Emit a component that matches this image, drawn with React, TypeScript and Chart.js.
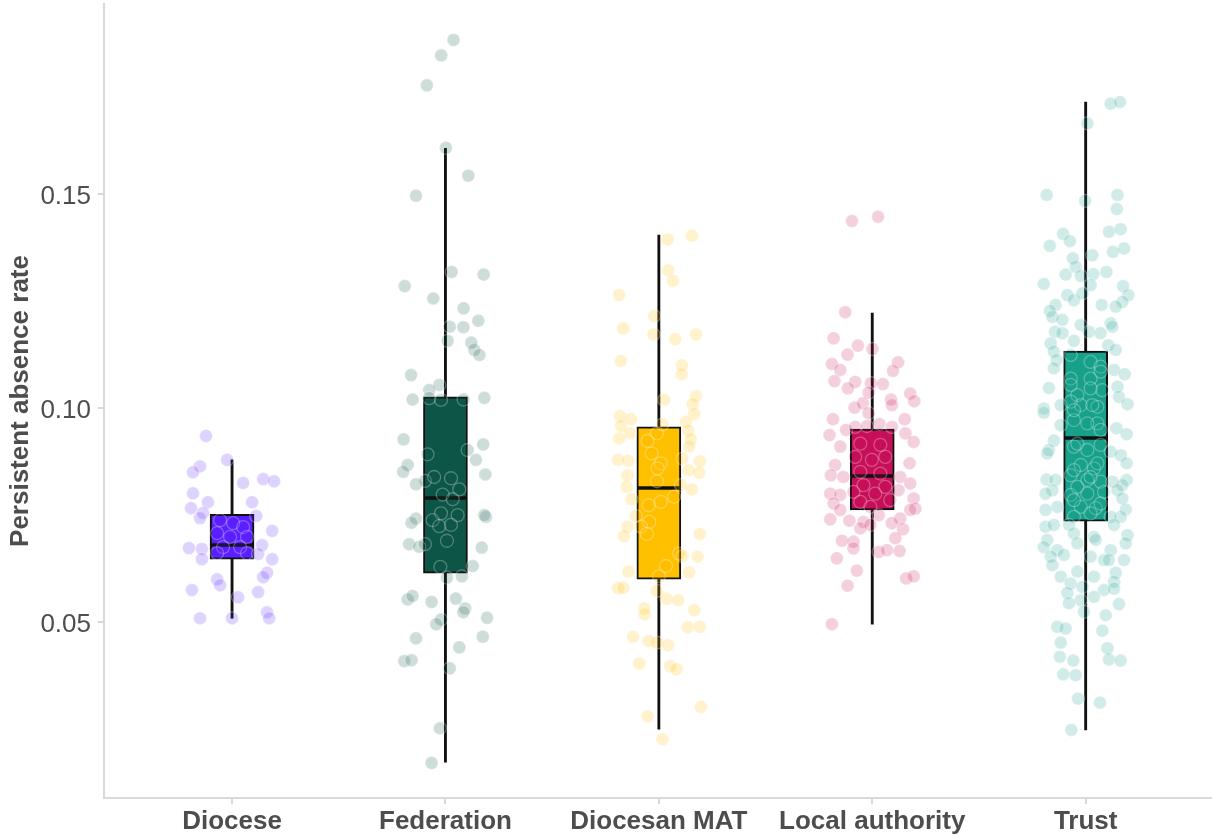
import React, { useEffect, useRef } from 'react';
import { Chart, registerables } from 'chart.js';

Chart.register(...registerables);

const FONT = "'Liberation Sans', Arial, Helvetica, sans-serif";

const categories = ['Diocese', 'Federation', 'Diocesan MAT', 'Local authority', 'Trust'];
const colors = ['#5A1EFF', '#0D5546', '#FFC000', '#C70E58', '#17A18A'];

// Box plot statistics
const whiskerLow = [0.0509, 0.0173, 0.0250, 0.0495, 0.0248];
const q1 = [0.0647, 0.0614, 0.0600, 0.0762, 0.0736];
const median = [0.0680, 0.0790, 0.0813, 0.0841, 0.0930];
const q3 = [0.0752, 0.1026, 0.0956, 0.0951, 0.1133];
const whiskerHigh = [0.0879, 0.1607, 0.1404, 0.1222, 0.1715];

const yTicks = [0.05, 0.10, 0.15];

// Jittered observations (value, horizontal jitter in category units)
const dioceseValues = [0.0935, 0.0879, 0.0864, 0.0850, 0.0825, 0.0834, 0.0829, 0.0801, 0.0780, 0.0780, 0.0766, 0.0755, 0.0743, 0.0748, 0.0713, 0.0738, 0.0731, 0.0722, 0.0708, 0.0699, 0.0699, 0.0675, 0.0675, 0.0661, 0.0661, 0.0673, 0.0671, 0.0647, 0.0680, 0.0659, 0.0647, 0.0600, 0.0586, 0.0615, 0.0605, 0.0575, 0.0558, 0.0570, 0.0509, 0.0509, 0.0523, 0.0509];
const dioceseJitter = [-0.122, -0.023, -0.150, -0.183, 0.052, 0.146, 0.197, -0.183, -0.113, 0.094, -0.192, -0.136, -0.150, 0.113, 0.188, -0.056, 0.005, 0.052, -0.070, -0.009, 0.070, -0.042, 0.038, -0.070, 0.070, -0.202, -0.141, -0.141, 0.141, 0.122, 0.188, -0.070, -0.056, 0.164, 0.146, -0.188, 0.028, 0.122, -0.150, 0.000, 0.164, 0.174];

const federationValues = [0.1860, 0.1824, 0.1754, 0.1608, 0.1543, 0.1496, 0.1318, 0.1312, 0.1285, 0.1256, 0.1233, 0.1204, 0.1190, 0.1189, 0.1157, 0.1153, 0.1136, 0.1124, 0.1077, 0.1054, 0.1042, 0.1020, 0.1023, 0.1019, 0.1020, 0.1024,
  0.0927, 0.0915, 0.0892, 0.0902, 0.0879, 0.0867, 0.0851, 0.0845, 0.0822, 0.0830, 0.0839, 0.0836, 0.0810, 0.0798, 0.0787, 0.0754, 0.0750, 0.0742, 0.0732, 0.0738, 0.0746, 0.0750, 0.0724, 0.0727, 0.0682, 0.0676, 0.0682, 0.0690, 0.0674, 0.0629, 0.0631, 0.0604, 0.0607, 0.0553, 0.0561, 0.0547, 0.0555, 0.0532, 0.0523, 0.0506, 0.0495, 0.0510, 0.0462, 0.0466, 0.0441, 0.0409, 0.0411, 0.0392, 0.0252, 0.0171];
const federationJitter = [0.038, -0.020, -0.087, 0.002, 0.107, -0.138, 0.029, 0.179, -0.191, -0.057, 0.085, 0.154, 0.020, 0.084, 0.010, 0.121, 0.135, 0.159, -0.161, -0.029, -0.076, -0.154, -0.076, -0.021, 0.085, 0.182,
  -0.196, 0.177, -0.084, 0.104, 0.143, -0.177, -0.198, 0.187, -0.138, -0.096, -0.053, 0.026, 0.065, -0.013, 0.034, -0.021, 0.057, -0.138, -0.159, -0.060, 0.190, 0.182, -0.029, 0.026, -0.170, -0.123, -0.096, 0.007, 0.170, -0.024, 0.128, 0.007, 0.077, -0.177, -0.154, -0.065, 0.049, 0.092, 0.084, -0.021, -0.043, 0.195, -0.138, 0.175, 0.065, -0.193, -0.159, 0.020, -0.026, -0.065];

const matValues = [0.1394, 0.1403, 0.1322, 0.1297, 0.1264, 0.1215, 0.1186, 0.1172, 0.1172, 0.1161, 0.1110, 0.1100, 0.1079, 0.1019, 0.1028, 0.1009, 0.0986, 0.0981, 0.0974, 0.0958, 0.0941, 0.0929, 0.0968, 0.0947, 0.0962, 0.0941, 0.0927, 0.0910, 0.0923, 0.0894, 0.0879, 0.0877, 0.0882, 0.0876, 0.0871, 0.0859, 0.0855, 0.0849, 0.0843, 0.0829, 0.0816, 0.0820, 0.0810, 0.0787, 0.0781, 0.0793, 0.0773, 0.0748, 0.0734, 0.0723, 0.0723, 0.0701, 0.0706, 0.0706, 0.0660, 0.0654, 0.0653, 0.0631, 0.0618, 0.0616, 0.0607, 0.0579, 0.0580, 0.0573, 0.0555, 0.0551, 0.0532, 0.0518, 0.0528, 0.0488, 0.0489, 0.0466, 0.0456, 0.0452, 0.0446, 0.0403, 0.0397, 0.0390, 0.0302, 0.0280, 0.0226];
const matJitter = [0.041, 0.155, 0.044, 0.067, -0.186, -0.022, -0.167, -0.025, 0.174, 0.077, -0.178, 0.108, 0.107, 0.025, 0.174, 0.158, 0.166, -0.182, -0.131, -0.178, -0.135, -0.186, 0.127, 0.138, 0.017, -0.009, 0.150, 0.142, -0.053, -0.034, -0.191, -0.144, 0.111, 0.192, 0.009, -0.006, 0.139, 0.189, -0.147, -0.009, -0.150, 0.103, 0.155, -0.128, 0.009, 0.072, -0.048, -0.108, -0.045, -0.147, -0.084, -0.163, -0.056, 0.192, 0.095, 0.111, 0.182, 0.033, -0.142, 0.142, 0.001, -0.191, -0.166, -0.009, 0.036, 0.091, -0.069, -0.066, 0.166, 0.135, 0.192, -0.121, -0.048, -0.009, 0.044, -0.092, 0.053, 0.083, 0.197, -0.053, 0.017];

const localValues = [0.1437, 0.1447, 0.1224, 0.1163, 0.1146, 0.1138, 0.1125, 0.1103, 0.1107, 0.1089, 0.1087, 0.1063, 0.1061, 0.1046, 0.1058, 0.1056, 0.1036, 0.1034, 0.1016, 0.1020, 0.1007, 0.1001, 0.1011, 0.0988, 0.0974, 0.0974, 0.0937, 0.0949, 0.0956, 0.0958, 0.0963, 0.0956, 0.0941, 0.0921, 0.0910, 0.0917, 0.0914, 0.0886, 0.0879, 0.0886, 0.0867, 0.0871, 0.0843, 0.0839, 0.0851, 0.0847, 0.0839, 0.0824, 0.0820, 0.0816, 0.0800, 0.0797, 0.0804, 0.0800, 0.0808, 0.0789, 0.0777, 0.0781, 0.0785, 0.0762, 0.0765, 0.0762, 0.0769, 0.0740, 0.0737, 0.0734, 0.0750, 0.0742, 0.0719, 0.0727, 0.0731, 0.0717, 0.0696, 0.0690, 0.0688, 0.0672, 0.0664, 0.0668, 0.0666, 0.0649, 0.0620, 0.0602, 0.0607, 0.0585, 0.0495];
const localJitter = [-0.095, 0.027, -0.127, -0.181, -0.067, 0.001, -0.116, -0.189, 0.121, -0.150, 0.097, -0.177, -0.080, -0.114, -0.006, 0.050, -0.017, 0.178, 0.197, 0.088, 0.092, -0.083, -0.044, -0.017, -0.184, 0.152, -0.200, -0.123, -0.080, -0.025, 0.034, 0.092, 0.155, 0.194, -0.150, -0.056, 0.038, -0.080, -0.002, 0.061, -0.174, 0.175, -0.194, -0.135, -0.056, 0.038, 0.131, 0.178, -0.041, 0.061, -0.197, -0.150, -0.088, 0.014, 0.123, 0.194, -0.181, -0.056, 0.084, -0.150, 0.202, 0.178, -0.009, -0.197, -0.107, -0.041, 0.030, 0.131, -0.056, -0.009, 0.092, 0.144, 0.108, -0.142, -0.088, -0.088, 0.030, 0.069, 0.128, -0.166, -0.072, 0.159, 0.194, -0.116, -0.189];

const trustValues = [0.1711, 0.1715, 0.1665, 0.1498, 0.1484, 0.1498, 0.1465, 0.1407, 0.1390, 0.1412, 0.1418, 0.1379, 0.1365, 0.1373, 0.1350, 0.1357, 0.1330, 0.1312, 0.1309, 0.1313, 0.1318, 0.1290, 0.1287, 0.1285, 0.1264, 0.1264, 0.1252, 0.1268, 0.1248, 0.1241, 0.1241, 0.1237, 0.1227, 0.1213, 0.1206, 0.1194, 0.1198, 0.1190, 0.1178, 0.1175, 0.1178, 0.1175, 0.1151, 0.1157, 0.1147, 0.1136, 0.1132, 0.1112, 0.1124, 0.1108, 0.1097, 0.1093, 0.1069, 0.1069, 0.1089, 0.1079, 0.1047, 0.1050, 0.1042, 0.1030, 0.1026, 0.0999, 0.1007, 0.1007, 0.1009, 0.1003,
  0.1085, 0.1054, 0.1046, 0.1015, 0.1007,
  0.0989, 0.0960, 0.0972, 0.0964, 0.0953, 0.0939, 0.0924, 0.0902, 0.0894, 0.0910, 0.0902, 0.0914, 0.0898, 0.0890, 0.0871, 0.0867, 0.0859, 0.0843, 0.0833, 0.0832, 0.0832, 0.0828, 0.0828, 0.0832, 0.0820, 0.0808, 0.0800, 0.0797, 0.0800, 0.0804, 0.0808, 0.0789, 0.0769, 0.0762, 0.0769, 0.0766, 0.0763, 0.0746, 0.0746, 0.0746, 0.0723, 0.0727, 0.0727, 0.0727, 0.0707, 0.0699, 0.0703, 0.0692, 0.0684, 0.0692, 0.0684, 0.0675, 0.0668, 0.0657, 0.0668, 0.0653, 0.0653, 0.0645, 0.0645, 0.0633, 0.0645, 0.0618, 0.0615, 0.0606, 0.0606, 0.0594, 0.0590, 0.0582, 0.0575, 0.0578, 0.0568, 0.0559, 0.0551, 0.0544, 0.0542, 0.0524, 0.0516, 0.0489, 0.0485, 0.0480, 0.0452, 0.0439, 0.0413, 0.0410, 0.0419, 0.0410, 0.0378, 0.0376, 0.0321, 0.0312, 0.0248,
  0.0995, 0.0964, 0.0949, 0.0917, 0.0871, 0.0855, 0.0839, 0.0816, 0.0777, 0.0785, 0.0754];
const trustJitter = [0.117, 0.161, 0.008, -0.183, -0.003, 0.149, 0.146, -0.106, -0.074, 0.109, 0.164, -0.168, 0.128, 0.180, -0.060, 0.031, -0.047, -0.094, -0.023, 0.036, 0.097, -0.196, 0.023, 0.175, 0.200, -0.086, -0.055, -0.015, 0.172, -0.141, 0.075, 0.141, -0.168, -0.156, -0.109, -0.023, 0.117, 0.125, -0.144, -0.109, 0.015, 0.070, -0.164, -0.055, 0.106, 0.141, -0.149, -0.136, -0.070, 0.023, 0.070, -0.149, -0.070, 0.023, 0.133, 0.183, -0.172, 0.149, 0.078, -0.039, 0.156, -0.196, -0.117, -0.023, 0.196, 0.055,
  0.070, -0.070, 0.023, -0.070, 0.031,
  -0.196, -0.117, -0.055, 0.055, 0.144, 0.192, -0.149, -0.172, -0.180, -0.055, 0.008, 0.070, 0.117, 0.164, 0.192, -0.023, 0.039, -0.070, -0.183, -0.141, 0.008, 0.070, 0.125, 0.192, 0.172, -0.156, -0.188, -0.070, 0.008, 0.086, 0.149, 0.172, -0.133, -0.188, -0.023, 0.047, 0.188, 0.164, -0.055, 0.117, -0.188, -0.149, -0.078, 0.133, -0.055, 0.039, 0.196, -0.180, -0.039, 0.047, 0.188, -0.196, -0.133, -0.102, 0.117, -0.164, 0.023, 0.086, 0.180, -0.156, 0.109, -0.039, 0.141, -0.117, 0.039, 0.133, -0.070, -0.015, 0.086, 0.133, -0.086, 0.039, -0.023, -0.078, 0.156, -0.008, 0.094, -0.133, -0.094, 0.078, -0.117, 0.102, 0.109, 0.164, -0.121, -0.058, -0.105, -0.047, -0.036, 0.067, -0.067,
  -0.055, 0.008, 0.070, -0.039, 0.055, -0.055, 0.023, -0.039, 0.070, -0.055, 0.023];

function rgba(hex: string, a: number): string {
  const n = parseInt(hex.slice(1), 16);
  return `rgba(${(n >> 16) & 255}, ${(n >> 8) & 255}, ${n & 255}, ${a})`;
}

function zeroPadding(s: any) {
  s.paddingLeft = 0;
  s.paddingRight = 0;
  s.paddingTop = 0;
  s.paddingBottom = 0;
}

export default function App() {
  const ref = useRef<HTMLCanvasElement>(null);

  useEffect(() => {
    if (!ref.current) return;
    const groups: [number[], number[]][] = [
      [dioceseValues, dioceseJitter],
      [federationValues, federationJitter],
      [matValues, matJitter],
      [localValues, localJitter],
      [trustValues, trustJitter],
    ];

    const pointSets = groups.map(([vals, jit], i) => ({
      type: 'scatter' as const,
      label: categories[i],
      data: vals.map((v, k) => ({ x: i + (jit[k] ?? 0), y: v })),
      pointRadius: 6.5,
      pointHoverRadius: 6.5,
      pointBackgroundColor: rgba(colors[i], 0.2),
      pointBorderColor: 'rgba(255,255,255,0.28)',
      pointBorderWidth: 1.3,
      showLine: false,
      order: 0,
    }));

    const medianSet = {
      type: 'scatter' as const,
      label: 'median',
      data: categories.map((_, i) => ({ x: i, y: median[i] })),
      pointStyle: 'line' as const,
      pointRadius: 21,
      pointHoverRadius: 21,
      pointBorderWidth: 3.5,
      pointBorderColor: '#111111',
      showLine: false,
      order: 1,
    };

    const boxSet = {
      type: 'bar' as const,
      label: 'box',
      data: categories.map((_, i) => ({ x: i, y: [q1[i], q3[i]] })),
      backgroundColor: colors,
      borderColor: '#111111',
      borderWidth: 2,
      borderSkipped: false,
      grouped: false,
      barPercentage: 1,
      categoryPercentage: 1,
      maxBarThickness: 44,
      order: 2,
    };

    const whiskerSet = {
      type: 'bar' as const,
      label: 'whisker',
      data: categories.map((_, i) => ({ x: i, y: [whiskerLow[i], whiskerHigh[i]] })),
      backgroundColor: '#111111',
      borderWidth: 0,
      grouped: false,
      barPercentage: 1,
      categoryPercentage: 1,
      maxBarThickness: 2.2,
      order: 3,
    };

    const chart = new Chart(ref.current, {
      type: 'bar',
      data: { datasets: [...pointSets, medianSet, boxSet, whiskerSet] as any },
      options: {
        responsive: false,
        animation: false,
        devicePixelRatio: 1,
        events: [],
        layout: { autoPadding: false, padding: { top: 4, left: 0, right: 0, bottom: 0 } },
        plugins: {
          legend: { display: false },
          tooltip: { enabled: false },
        },
        scales: {
          x: {
            type: 'linear',
            offset: false,
            min: -0.6,
            max: 4.592,
            afterBuildTicks: (s: any) => {
              s.ticks = categories.map((_, i) => ({ value: i }));
            },
            afterFit: (s: any) => {
              s.height = 38;
              zeroPadding(s);
            },
            ticks: {
              callback: (v: any) => categories[Math.round(Number(v))] ?? '',
              autoSkip: false,
              maxRotation: 0,
              minRotation: 0,
              padding: 2,
              color: '#4d4d4d',
              font: { family: FONT, size: 26, weight: 'bold' },
            },
            grid: {
              display: true,
              offset: false,
              drawOnChartArea: false,
              drawTicks: true,
              tickLength: 6,
              color: '#d9d9d9',
              lineWidth: 2,
            },
            border: { display: true, color: '#d9d9d9', width: 2 },
          },
          y: {
            type: 'linear',
            min: 0.0089,
            max: 0.1944,
            afterBuildTicks: (s: any) => {
              s.ticks = yTicks.map((v) => ({ value: v }));
            },
            afterFit: (s: any) => {
              s.width = 104;
              zeroPadding(s);
            },
            ticks: {
              callback: (v: any) => Number(v).toFixed(2),
              padding: 7,
              labelOffset: 2.5,
              color: '#4d4d4d',
              font: { family: FONT, size: 26 },
            },
            grid: {
              display: true,
              drawOnChartArea: false,
              drawTicks: true,
              tickLength: 6,
              color: '#d9d9d9',
              lineWidth: 2,
            },
            border: { display: true, color: '#d9d9d9', width: 2 },
            title: {
              display: true,
              text: 'Persistent absence rate',
              color: '#4d4d4d',
              font: { family: FONT, size: 26, weight: 'bold' },
              padding: { top: 5, bottom: 0 },
            },
          },
        },
      } as any,
    });

    return () => chart.destroy();
  }, []);

  return (
    <div style={{ position: 'absolute', left: 0, top: 0, width: 1212, height: 836, background: '#ffffff' }}>
      <canvas ref={ref} width={1212} height={836} style={{ display: 'block' }} />
    </div>
  );
}
